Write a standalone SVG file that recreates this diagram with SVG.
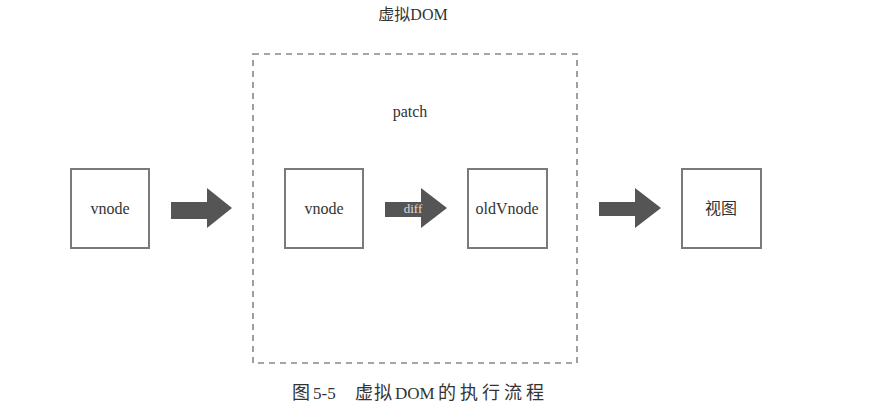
<svg xmlns="http://www.w3.org/2000/svg" width="875" height="420" viewBox="0 0 875 420">
<style>
.box{fill:#fff;stroke:#7a7a7a;stroke-width:2}
.arrow{fill:#555}
.lbl{font-family:"Liberation Serif","Noto Sans CJK SC",serif;font-size:16px;fill:#333;text-anchor:middle}
.cap{font-family:"Liberation Serif","Noto Sans CJK SC",serif;font-size:18px;fill:#333}
.frame{fill:none;stroke:#888;stroke-width:1.6;stroke-dasharray:6,5}
</style>
<rect width="875" height="420" fill="#fff"/>
<g id="virtual-dom">
<rect class="frame" x="253" y="54" width="324" height="309"/>
<text class="lbl" x="413" y="20">虚拟DOM</text>
<text class="lbl" x="410" y="117" font-size="16.5">patch</text>
</g>
<g id="connectors">
<polygon class="arrow" points="171,202 207,202 207,188 232,208 207,228 207,219 171,219"/>
<polygon class="arrow" points="385,202 421,202 421,188 447,208 421,228 421,217 385,217"/>
<text x="413" y="213" font-family="Liberation Serif,serif" font-size="13" fill="#ddd" text-anchor="middle">diff</text>
<polygon class="arrow" points="599,202 635,202 635,188 661,208 635,228 635,216 599,216"/>
</g>
<g id="node-vnode1">
<rect class="box" x="71" y="169" width="78" height="79"/>
<text class="lbl" x="110" y="214">vnode</text>
</g>
<g id="node-vnode2">
<rect class="box" x="285" y="169" width="78" height="79"/>
<text class="lbl" x="324" y="214">vnode</text>
</g>
<g id="node-oldVnode">
<rect class="box" x="468" y="169" width="79" height="79"/>
<text class="lbl" x="507" y="214">oldVnode</text>
</g>
<g id="node-view">
<rect class="box" x="682" y="169" width="79" height="79"/>
<text class="lbl" x="721" y="214">视图</text>
</g>
<text class="cap" y="399"><tspan x="292">图</tspan><tspan x="313" font-size="17">5-5</tspan><tspan x="355" letter-spacing="1">虚拟</tspan><tspan x="395" font-size="17">DOM</tspan><tspan x="438" letter-spacing="4">的执行流程</tspan></text>
</svg>
